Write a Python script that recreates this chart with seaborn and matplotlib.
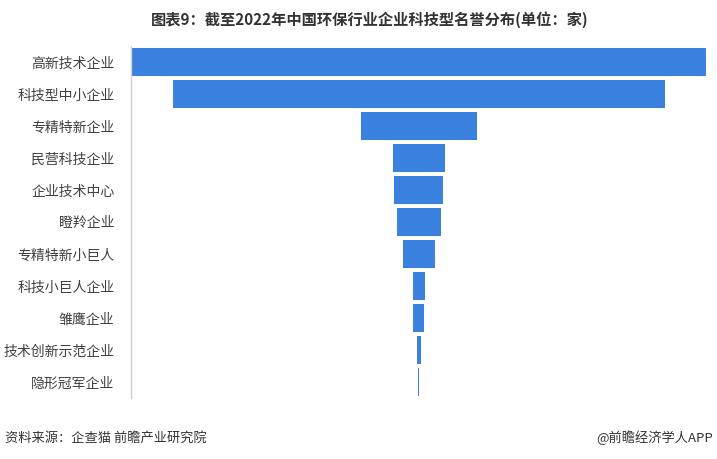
import numpy as np
import pandas as pd
import matplotlib
matplotlib.use("Agg")
import matplotlib.pyplot as plt
import seaborn as sns

# data (unit: 家)
categories = ["高新技术企业", "科技型中小企业", "专精特新企业", "民营科技企业", "企业技术中心",
              "瞪羚企业", "专精特新小巨人", "科技小巨人企业", "雏鹰企业", "技术创新示范企业", "隐形冠军企业"]
counts = [5750, 4920, 1160, 520, 495, 440, 320, 120, 113, 40, 14]

title = "图表9：截至2022年中国环保行业企业科技型名誉分布(单位：家)"
source = "资料来源：企查猫 前瞻产业研究院"
credit = "@前瞻经济学人APP"

bar_color = "#3B82E0"


def main():
    sns.set_theme(style="white")
    plt.rcParams["font.family"] = ["Noto Sans CJK SC", "DejaVu Sans"]

    df = pd.DataFrame({"cat": categories, "half": np.array(counts) / 2})
    df["neg"] = -df["half"]

    fig = plt.figure(figsize=(7.17, 4.59), dpi=100)
    ax = fig.add_axes([131 / 717, 1 - 398 / 459, 575 / 717, 352 / 459])

    # funnel: each bar drawn as two halves around zero
    sns.barplot(data=df, x="half", y="cat", color=bar_color, saturation=1,
                width=0.9, linewidth=0, ax=ax)
    sns.barplot(data=df, x="neg", y="cat", color=bar_color, saturation=1,
                width=0.9, linewidth=0, ax=ax)
    for p in ax.patches:
        p.set_antialiased(False)

    m = max(counts) / 2
    ax.set_xlim(-m, m)
    ax.set_ylim(len(categories) - 0.5, -0.5)
    ax.set_xlabel("")
    ax.set_ylabel("")
    ax.set_xticks([])
    ax.tick_params(axis="y", length=0, pad=12, labelsize=10, labelcolor="#404040")
    for s in ["top", "right", "bottom"]:
        ax.spines[s].set_visible(False)
    ax.spines["left"].set_color("#d0d0d0")
    ax.spines["left"].set_linewidth(1)

    fig.text(370 / 717, 1 - 20 / 459, title, ha="center", va="center",
             fontsize=11, fontweight="bold", color="#333333")
    fig.text(5 / 717, 1 - 438 / 459, source, ha="left", va="center",
             fontsize=9.5, color="#333333")
    fig.text(713 / 717, 1 - 438 / 459, credit, ha="right", va="center",
             fontsize=9.5, color="#333333")

    fig.savefig("out.png", dpi=100)
    plt.close(fig)


if __name__ == "__main__":
    main()
